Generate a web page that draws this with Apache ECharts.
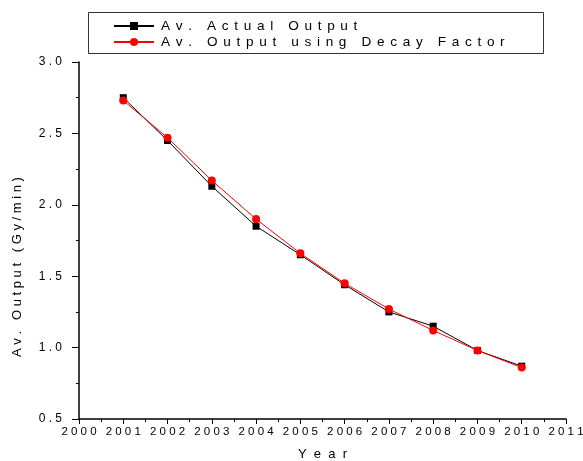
<!DOCTYPE html>
<html>
<head>
<meta charset="utf-8">
<script src="https://cdn.jsdelivr.net/npm/echarts@6/dist/echarts.min.js"></script>
<style>
  html, body { margin: 0; padding: 0; background: #fff; }
  #main { width: 583px; height: 461px; }
</style>
</head>
<body>
<div id="main"></div>
<script>
// data
var years = [2001, 2002, 2003, 2004, 2005, 2006, 2007, 2008, 2009, 2010];
var actualOutput = [2.75, 2.45, 2.13, 1.85, 1.65, 1.44, 1.25, 1.15, 0.98, 0.87];
var decayOutput = [2.73, 2.47, 2.17, 1.90, 1.66, 1.45, 1.27, 1.12, 0.98, 0.86];
var seriesNames = ['Av. Actual Output', 'Av. Output using Decay Factor'];

// the original spreads its letters out
function spaced(s, sep) {
    return String(s).split('').join(sep || ' ');
}

var myChart = echarts.init(document.getElementById('main'));

var pairs = function(vals) {
    return years.map(function(y, i) { return [y, vals[i]]; });
};

var font = 'Liberation Sans, Arial, sans-serif';

option = {
    animation: false,
    backgroundColor: '#fff',
    grid: { left: 79, right: 17, top: 62, bottom: 42, outerBoundsMode: 'none' },
    graphic: [{
        type: 'rect',
        shape: { x: 88.5, y: 12.5, width: 455, height: 41 },
        style: { fill: 'none', stroke: '#333', lineWidth: 1 },
        z: 0
    }, {
        // y axis title sits a bit below the middle in the original
        type: 'text',
        x: 17,
        y: 267,
        rotation: Math.PI / 2,
        style: {
            text: spaced('Av. Output (Gy/min)'),
            font: '13px ' + font,
            fill: '#000',
            align: 'center',
            verticalAlign: 'middle'
        }
    }],
    legend: {
        orient: 'vertical',
        left: 113,
        top: 19,
        padding: 0,
        itemWidth: 40,
        itemHeight: 10,
        itemGap: 2,
        textStyle: {
            fontFamily: font, fontSize: 13.6, lineHeight: 14, color: '#000',
            padding: [0, 0, 0, 2]
        },
        formatter: function(name) { return spaced(name, '\u2005\u2006'); },
        data: seriesNames
    },
    xAxis: {
        type: 'value',
        min: 2000,
        max: 2011,
        interval: 1,
        name: spaced('Year', '  '),
        nameLocation: 'middle',
        nameGap: 29,
        nameTextStyle: { fontFamily: font, fontSize: 13, color: '#000', verticalAlign: 'top' },
        axisLine: { lineStyle: { color: '#000', width: 1.5 } },
        axisTick: { inside: false, length: 5, lineStyle: { color: '#000' } },
        minorTick: { show: true, splitNumber: 2, length: 3, lineStyle: { color: '#000' } },
        splitLine: { show: false },
        axisLabel: {
            fontFamily: font, fontSize: 11.5, color: '#000', margin: 7,
            formatter: function(v) { return spaced(v); }
        }
    },
    yAxis: {
        type: 'value',
        min: 0.5,
        max: 3.0,
        interval: 0.5,
        axisLine: { lineStyle: { color: '#000', width: 1.5 } },
        axisTick: { inside: false, length: 7, lineStyle: { color: '#000' } },
        minorTick: { show: true, splitNumber: 2, length: 3, lineStyle: { color: '#000' } },
        splitLine: { show: false },
        axisLabel: {
            fontFamily: font, fontSize: 12, color: '#000', margin: 17,
            formatter: function(v) { return spaced(v.toFixed(1)); }
        }
    },
    series: [{
        name: seriesNames[0],
        type: 'line',
        data: pairs(actualOutput),
        symbol: 'rect',
        symbolSize: 7,
        itemStyle: { color: '#000' },
        lineStyle: { color: '#000', width: 1 },
        z: 2
    }, {
        name: seriesNames[1],
        type: 'line',
        data: pairs(decayOutput),
        symbol: 'circle',
        symbolSize: 8,
        itemStyle: { color: '#ff0000' },
        lineStyle: { color: '#ff0000', width: 1 },
        z: 3
    }]
};
myChart.setOption(option);
</script>
</body>
</html>
